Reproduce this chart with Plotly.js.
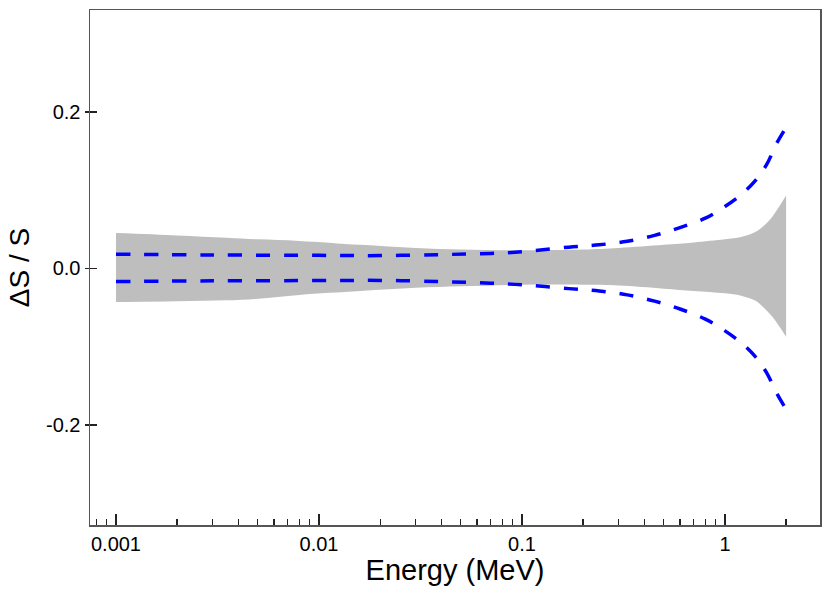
<!DOCTYPE html>
<html>
<head>
<meta charset="utf-8">
<script src="https://cdn.plot.ly/plotly-3.0.1.min.js"></script>
<style>
  body { margin: 0; background: #fff; }
  #chart { width: 830px; height: 593px; }
</style>
</head>
<body>
<div id="chart"></div>
<script>
/* data */
var bandE     = [0.001, 0.002, 0.0035, 0.005, 0.008, 0.016, 0.03, 0.05, 0.1, 0.2, 0.3, 0.5, 0.7, 1.0, 1.2, 1.4, 1.55, 1.7, 1.85, 2.0];
var bandUpper = [0.045, 0.042, 0.039, 0.037, 0.035, 0.030, 0.026, 0.024, 0.023, 0.024, 0.026, 0.030, 0.033, 0.037, 0.040, 0.046, 0.054, 0.065, 0.079, 0.093];
var bandLower = [-0.043, -0.042, -0.041, -0.039, -0.034, -0.029, -0.025, -0.023, -0.021, -0.021, -0.022, -0.026, -0.029, -0.032, -0.035, -0.041, -0.050, -0.061, -0.074, -0.0875];

var lineE     = [0.001, 0.003, 0.01, 0.02, 0.04, 0.07, 0.1, 0.17, 0.24, 0.33, 0.45, 0.6, 0.8, 1.0, 1.2, 1.4, 1.6, 1.8, 2.0];
var lineUpper = [0.018, 0.017, 0.0165, 0.0162, 0.0175, 0.019, 0.021, 0.027, 0.030, 0.0345, 0.042, 0.052, 0.064, 0.079, 0.094, 0.111, 0.132, 0.160, 0.180];
var lineLower = [-0.017, -0.016, -0.0157, -0.0155, -0.017, -0.019, -0.021, -0.026, -0.029, -0.034, -0.042, -0.052, -0.065, -0.080, -0.095, -0.112, -0.133, -0.160, -0.180];

var xTickVals = [0.001, 0.01, 0.1, 1];
var xTickText = ['0.001', '0.01', '0.1', '1'];
var yTickVals = [0.2, 0, -0.2];
var yTickText = ['0.2', '0.0', '-0.2'];

/* minor ticks 2..9 in every decade */
var minorVals = [];
[0.0001, 0.001, 0.01, 0.1, 1].forEach(function (d) {
  for (var k = 2; k <= 9; k++) minorVals.push(k * d);
});

var font = 'Liberation Sans, Arial, Helvetica, sans-serif';

var bandTop = {
  x: bandE, y: bandUpper,
  type: 'scatter', mode: 'lines',
  line: { width: 0, shape: 'spline', smoothing: 1, color: '#bebebe' },
  hoverinfo: 'skip'
};
var bandBottom = {
  x: bandE, y: bandLower,
  type: 'scatter', mode: 'lines',
  fill: 'tonexty', fillcolor: '#bebebe',
  line: { width: 0, shape: 'spline', smoothing: 1, color: '#bebebe' },
  hoverinfo: 'skip'
};
var dashStyle = { color: '#0000ff', width: 3.5, dash: '14px,14px', shape: 'spline' };
var upper = { x: lineE, y: lineUpper, type: 'scatter', mode: 'lines', line: dashStyle };
var lower = { x: lineE, y: lineLower, type: 'scatter', mode: 'lines', line: dashStyle };

var layout = {
  width: 830, height: 593,
  showlegend: false,
  paper_bgcolor: '#fff', plot_bgcolor: '#fff',
  margin: { l: 90, r: 10, t: 10, b: 68 },
  font: { family: font, size: 20, color: '#000' },
  xaxis: {
    type: 'log',
    range: [-3.128, 0.468],
    showgrid: false, zeroline: false,
    showline: true, linecolor: '#555', linewidth: 1.5, mirror: true,
    tickmode: 'array', tickvals: xTickVals, ticktext: xTickText,
    ticks: 'inside', ticklen: 11, tickwidth: 1.5, tickcolor: '#222',
    minor: { tickmode: 'array', tickvals: minorVals, ticks: 'inside', ticklen: 6, tickwidth: 1.2, tickcolor: '#222', showgrid: false },
    tickfont: { size: 20 },
    title: { text: 'Energy (MeV)', font: { size: 29 }, standoff: 4 }
  },
  yaxis: {
    range: [-0.328, 0.33],
    showgrid: false, zeroline: false,
    showline: true, linecolor: '#555', linewidth: 1.5, mirror: true,
    tickmode: 'array', tickvals: yTickVals, ticktext: yTickText,
    ticks: 'outside', ticklen: 4, tickwidth: 1.5, tickcolor: '#222',
    tickfont: { size: 20 },
    title: { text: 'ΔS / S', font: { size: 28 }, standoff: 8 }
  },
  yaxis2: {
    overlaying: 'y', range: [-0.328, 0.33],
    showgrid: false, zeroline: false, showline: false,
    tickmode: 'array', tickvals: yTickVals, showticklabels: false,
    ticks: 'inside', ticklen: 7, tickwidth: 1.5, tickcolor: '#222'
  }
};

var tickHolder = { x: [0.001], y: [0], yaxis: 'y2', type: 'scatter', mode: 'markers', marker: { opacity: 0 }, hoverinfo: 'skip' };

Plotly.newPlot('chart', [bandTop, bandBottom, upper, lower, tickHolder], layout, { displayModeBar: false, staticPlot: true });
</script>
</body>
</html>
